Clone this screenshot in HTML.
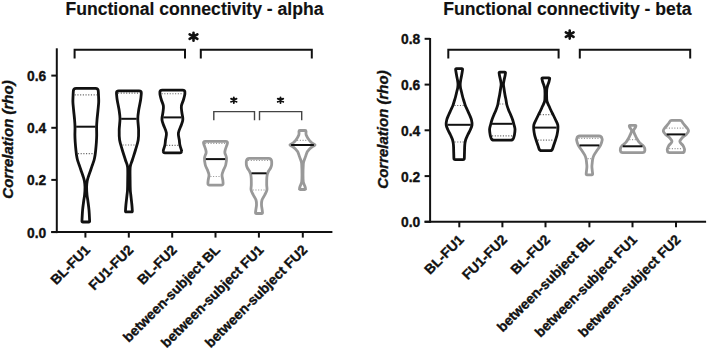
<!DOCTYPE html>
<html><head><meta charset="utf-8"><style>
html,body{margin:0;padding:0;background:#fff;}
body{width:708px;height:349px;overflow:hidden;}
svg{display:block;}
text{font-family:"Liberation Sans",sans-serif;stroke:#111;stroke-width:0.35px;}
</style></head><body>
<svg width="708" height="349" viewBox="0 0 708 349">
<rect width="708" height="349" fill="#fff"/>
<text x="194.5" y="15.3" text-anchor="middle" font-weight="bold" font-size="17.6" fill="#111" style="stroke-width:0.15px">Functional connectivity - alpha</text>
<text x="567.4" y="15.3" text-anchor="middle" font-weight="bold" font-size="17.6" fill="#111" style="stroke-width:0.15px">Functional connectivity - beta</text>
<line x1="56.8" y1="48.3" x2="56.8" y2="233.1" stroke="#111" stroke-width="2"/>
<line x1="51.3" y1="232.1" x2="332.4" y2="232.1" stroke="#111" stroke-width="2"/>
<line x1="51.3" y1="232.1" x2="56.8" y2="232.1" stroke="#111" stroke-width="2"/>
<text x="46.3" y="237.5" text-anchor="end" font-weight="bold" font-size="13.8" fill="#111">0.0</text>
<line x1="51.3" y1="179.9" x2="56.8" y2="179.9" stroke="#111" stroke-width="2"/>
<text x="46.3" y="185.3" text-anchor="end" font-weight="bold" font-size="13.8" fill="#111">0.2</text>
<line x1="51.3" y1="127.8" x2="56.8" y2="127.8" stroke="#111" stroke-width="2"/>
<text x="46.3" y="133.2" text-anchor="end" font-weight="bold" font-size="13.8" fill="#111">0.4</text>
<line x1="51.3" y1="75.6" x2="56.8" y2="75.6" stroke="#111" stroke-width="2"/>
<text x="46.3" y="81.0" text-anchor="end" font-weight="bold" font-size="13.8" fill="#111">0.6</text>
<line x1="85.4" y1="232.1" x2="85.4" y2="237.6" stroke="#111" stroke-width="2"/>
<line x1="128.8" y1="232.1" x2="128.8" y2="237.6" stroke="#111" stroke-width="2"/>
<line x1="172.2" y1="232.1" x2="172.2" y2="237.6" stroke="#111" stroke-width="2"/>
<line x1="215.5" y1="232.1" x2="215.5" y2="237.6" stroke="#111" stroke-width="2"/>
<line x1="258.9" y1="232.1" x2="258.9" y2="237.6" stroke="#111" stroke-width="2"/>
<line x1="302.8" y1="232.1" x2="302.8" y2="237.6" stroke="#111" stroke-width="2"/>
<text x="90.90" y="250.80" text-anchor="end" font-weight="bold" font-size="13.8" fill="#111" transform="rotate(-45 90.90 250.80)">BL-FU1</text>
<text x="134.30" y="250.80" text-anchor="end" font-weight="bold" font-size="13.8" fill="#111" transform="rotate(-45 134.30 250.80)">FU1-FU2</text>
<text x="177.70" y="250.80" text-anchor="end" font-weight="bold" font-size="13.8" fill="#111" transform="rotate(-45 177.70 250.80)">BL-FU2</text>
<text x="221.00" y="250.80" text-anchor="end" font-weight="bold" font-size="13.8" fill="#111" transform="rotate(-45 221.00 250.80)">between-subject BL</text>
<text x="264.40" y="250.80" text-anchor="end" font-weight="bold" font-size="13.8" fill="#111" transform="rotate(-45 264.40 250.80)">between-subject FU1</text>
<text x="308.30" y="250.80" text-anchor="end" font-weight="bold" font-size="13.8" fill="#111" transform="rotate(-45 308.30 250.80)">between-subject FU2</text>
<text x="13.3" y="139.5" text-anchor="middle" font-weight="bold" font-style="italic" font-size="15" fill="#111" transform="rotate(-90 13.3 139.5)">Correlation (rho)</text>
<line x1="430.1" y1="38.0" x2="430.1" y2="222.8" stroke="#111" stroke-width="2"/>
<line x1="424.6" y1="221.8" x2="706.1" y2="221.8" stroke="#111" stroke-width="2"/>
<line x1="424.6" y1="221.8" x2="430.1" y2="221.8" stroke="#111" stroke-width="2"/>
<text x="420.3" y="227.20000000000002" text-anchor="end" font-weight="bold" font-size="13.8" fill="#111">0.0</text>
<line x1="424.6" y1="176.1" x2="430.1" y2="176.1" stroke="#111" stroke-width="2"/>
<text x="420.3" y="181.5" text-anchor="end" font-weight="bold" font-size="13.8" fill="#111">0.2</text>
<line x1="424.6" y1="130.3" x2="430.1" y2="130.3" stroke="#111" stroke-width="2"/>
<text x="420.3" y="135.70000000000002" text-anchor="end" font-weight="bold" font-size="13.8" fill="#111">0.4</text>
<line x1="424.6" y1="84.6" x2="430.1" y2="84.6" stroke="#111" stroke-width="2"/>
<text x="420.3" y="90.0" text-anchor="end" font-weight="bold" font-size="13.8" fill="#111">0.6</text>
<line x1="424.6" y1="38.8" x2="430.1" y2="38.8" stroke="#111" stroke-width="2"/>
<text x="420.3" y="44.199999999999996" text-anchor="end" font-weight="bold" font-size="13.8" fill="#111">0.8</text>
<line x1="459.3" y1="221.8" x2="459.3" y2="227.3" stroke="#111" stroke-width="2"/>
<line x1="502.4" y1="221.8" x2="502.4" y2="227.3" stroke="#111" stroke-width="2"/>
<line x1="545.5" y1="221.8" x2="545.5" y2="227.3" stroke="#111" stroke-width="2"/>
<line x1="589.4" y1="221.8" x2="589.4" y2="227.3" stroke="#111" stroke-width="2"/>
<line x1="632.5" y1="221.8" x2="632.5" y2="227.3" stroke="#111" stroke-width="2"/>
<line x1="676" y1="221.8" x2="676" y2="227.3" stroke="#111" stroke-width="2"/>
<text x="464.80" y="240.50" text-anchor="end" font-weight="bold" font-size="13.8" fill="#111" transform="rotate(-45 464.80 240.50)">BL-FU1</text>
<text x="507.90" y="240.50" text-anchor="end" font-weight="bold" font-size="13.8" fill="#111" transform="rotate(-45 507.90 240.50)">FU1-FU2</text>
<text x="551.00" y="240.50" text-anchor="end" font-weight="bold" font-size="13.8" fill="#111" transform="rotate(-45 551.00 240.50)">BL-FU2</text>
<text x="594.90" y="240.50" text-anchor="end" font-weight="bold" font-size="13.8" fill="#111" transform="rotate(-45 594.90 240.50)">between-subject BL</text>
<text x="638.00" y="240.50" text-anchor="end" font-weight="bold" font-size="13.8" fill="#111" transform="rotate(-45 638.00 240.50)">between-subject FU1</text>
<text x="681.50" y="240.50" text-anchor="end" font-weight="bold" font-size="13.8" fill="#111" transform="rotate(-45 681.50 240.50)">between-subject FU2</text>
<text x="387.7" y="129.5" text-anchor="middle" font-weight="bold" font-style="italic" font-size="15" fill="#111" transform="rotate(-90 387.7 129.5)">Correlation (rho)</text>
<path d="M74.6,58.6 L74.6,49.8 L185,49.8 L185,58.6" fill="none" stroke="#111" stroke-width="2" stroke-linejoin="miter" stroke-linecap="butt"/>
<path d="M200.8,58.6 L200.8,49.8 L311.8,49.8 L311.8,58.6" fill="none" stroke="#111" stroke-width="2" stroke-linejoin="miter" stroke-linecap="butt"/>
<path d="M193.50,32.70 L193.50,40.70 M189.62,34.46 L197.38,38.94 M189.62,38.94 L197.38,34.46" stroke="#111" stroke-width="2.6" stroke-linecap="round" fill="none"/>
<path d="M448.3,58.6 L448.3,49.8 L558.6,49.8 L558.6,58.6" fill="none" stroke="#111" stroke-width="2" stroke-linejoin="miter" stroke-linecap="butt"/>
<path d="M579.8,58.6 L579.8,49.8 L690.2,49.8 L690.2,58.6" fill="none" stroke="#111" stroke-width="2" stroke-linejoin="miter" stroke-linecap="butt"/>
<path d="M569.70,30.60 L569.70,38.60 M565.82,32.36 L573.58,36.84 M565.82,36.84 L573.58,32.36" stroke="#111" stroke-width="2.6" stroke-linecap="round" fill="none"/>
<path d="M213.8,120.2 L213.8,111.6 L254.5,111.6 L254.5,120.2" fill="none" stroke="#444" stroke-width="1.4" stroke-linejoin="miter" stroke-linecap="butt"/>
<path d="M259.5,120.2 L259.5,111.6 L301.7,111.6 L301.7,120.2" fill="none" stroke="#444" stroke-width="1.4" stroke-linejoin="miter" stroke-linecap="butt"/>
<path d="M233.80,97.40 L233.80,103.00 M231.08,98.63 L236.52,101.77 M231.08,101.77 L236.52,98.63" stroke="#111" stroke-width="1.9" stroke-linecap="round" fill="none"/>
<path d="M280.50,97.40 L280.50,103.00 M277.78,98.63 L283.22,101.77 M277.78,101.77 L283.22,98.63" stroke="#111" stroke-width="1.9" stroke-linecap="round" fill="none"/>
<line x1="74.71" y1="94.90" x2="96.89" y2="94.90" stroke="#666" stroke-width="1.2" stroke-dasharray="1.1 1.6"/>
<line x1="77.94" y1="153.70" x2="93.66" y2="153.70" stroke="#666" stroke-width="1.2" stroke-dasharray="1.1 1.6"/>
<path d="M76.10,88.30 L95.50,88.30 Q98.10,88.30 98.26,90.90 C98.30,91.58 98.43,93.15 98.50,95.00 C98.57,96.85 98.78,99.50 98.70,102.00 C98.62,104.50 98.28,107.00 98.00,110.00 C97.72,113.00 97.23,117.17 97.00,120.00 C96.77,122.83 96.65,124.50 96.60,127.00 C96.55,129.50 96.73,132.50 96.70,135.00 C96.67,137.50 96.57,139.50 96.40,142.00 C96.23,144.50 95.92,147.83 95.70,150.00 C95.48,152.17 95.37,153.33 95.10,155.00 C94.83,156.67 94.55,158.33 94.10,160.00 C93.65,161.67 92.97,163.33 92.40,165.00 C91.83,166.67 91.33,168.17 90.70,170.00 C90.07,171.83 89.18,174.17 88.60,176.00 C88.02,177.83 87.53,179.17 87.20,181.00 C86.87,182.83 86.63,184.67 86.60,187.00 C86.57,189.33 86.78,192.67 87.00,195.00 C87.22,197.33 87.57,198.50 87.90,201.00 C88.23,203.50 88.71,206.66 89.00,210.00 C89.29,213.34 89.54,219.19 89.64,221.03 Q89.70,222.00 88.73,222.00 L82.87,222.00 Q81.90,222.00 81.96,221.03 C82.06,219.19 82.31,213.34 82.60,210.00 C82.89,206.66 83.37,203.50 83.70,201.00 C84.03,198.50 84.38,197.33 84.60,195.00 C84.82,192.67 85.03,189.33 85.00,187.00 C84.97,184.67 84.73,182.83 84.40,181.00 C84.07,179.17 83.58,177.83 83.00,176.00 C82.42,174.17 81.53,171.83 80.90,170.00 C80.27,168.17 79.77,166.67 79.20,165.00 C78.63,163.33 77.95,161.67 77.50,160.00 C77.05,158.33 76.77,156.67 76.50,155.00 C76.23,153.33 76.12,152.17 75.90,150.00 C75.68,147.83 75.37,144.50 75.20,142.00 C75.03,139.50 74.93,137.50 74.90,135.00 C74.87,132.50 75.05,129.50 75.00,127.00 C74.95,124.50 74.83,122.83 74.60,120.00 C74.37,117.17 73.88,113.00 73.60,110.00 C73.32,107.00 72.98,104.50 72.90,102.00 C72.82,99.50 73.03,96.85 73.10,95.00 C73.17,93.15 73.30,91.58 73.34,90.90 Q73.50,88.30 76.10,88.30 Z" fill="none" stroke="#111" stroke-width="2.8" stroke-linejoin="round"/>
<line x1="76.18" y1="126.70" x2="95.42" y2="126.70" stroke="#111" stroke-width="2"/>
<line x1="118.05" y1="93.20" x2="139.75" y2="93.20" stroke="#666" stroke-width="1.2" stroke-dasharray="1.1 1.6"/>
<line x1="122.55" y1="145.00" x2="135.25" y2="145.00" stroke="#666" stroke-width="1.2" stroke-dasharray="1.1 1.6"/>
<path d="M118.80,90.90 L139.00,90.90 Q141.60,90.90 141.31,93.50 C141.20,94.58 141.04,97.25 140.60,100.00 C140.16,102.75 139.17,106.87 138.70,110.00 C138.23,113.13 137.82,115.47 137.80,118.80 C137.78,122.13 138.53,126.47 138.60,130.00 C138.67,133.53 138.72,136.67 138.20,140.00 C137.68,143.33 136.47,146.67 135.50,150.00 C134.53,153.33 133.23,157.17 132.35,160.00 C131.47,162.83 130.58,163.67 130.20,167.00 C129.83,170.33 130.08,176.17 130.10,180.00 C130.12,183.83 130.18,187.50 130.30,190.00 C130.42,192.50 130.53,192.50 130.80,195.00 C131.07,197.50 131.64,202.33 131.90,205.00 C132.16,207.67 132.26,210.02 132.34,211.03 Q132.40,211.90 131.53,211.90 L126.28,211.90 Q125.40,211.90 125.46,211.03 C125.54,210.02 125.64,207.67 125.90,205.00 C126.16,202.33 126.73,197.50 127.00,195.00 C127.27,192.50 127.38,192.50 127.50,190.00 C127.62,187.50 127.68,183.83 127.70,180.00 C127.72,176.17 127.98,170.33 127.60,167.00 C127.23,163.67 126.33,162.83 125.45,160.00 C124.57,157.17 123.28,153.33 122.30,150.00 C121.33,146.67 120.12,143.33 119.60,140.00 C119.08,136.67 119.13,133.53 119.20,130.00 C119.27,126.47 120.02,122.13 120.00,118.80 C119.98,115.47 119.57,113.13 119.10,110.00 C118.63,106.87 117.64,102.75 117.20,100.00 C116.76,97.25 116.60,94.58 116.49,93.50 Q116.20,90.90 118.80,90.90 Z" fill="none" stroke="#111" stroke-width="2.8" stroke-linejoin="round"/>
<line x1="121.20" y1="118.80" x2="136.60" y2="118.80" stroke="#111" stroke-width="2"/>
<line x1="161.59" y1="93.75" x2="183.21" y2="93.75" stroke="#666" stroke-width="1.2" stroke-dasharray="1.1 1.6"/>
<line x1="166.41" y1="145.30" x2="178.39" y2="145.30" stroke="#666" stroke-width="1.2" stroke-dasharray="1.1 1.6"/>
<path d="M162.25,90.10 L182.55,90.10 Q185.15,90.10 184.91,92.70 C184.88,93.08 184.95,93.78 184.70,95.00 C184.45,96.22 183.95,98.17 183.40,100.00 C182.85,101.83 181.67,104.00 181.40,106.00 C181.13,108.00 181.57,110.00 181.80,112.00 C182.03,114.00 182.67,116.50 182.80,118.00 C182.93,119.50 182.85,119.83 182.60,121.00 C182.35,122.17 182.00,123.00 181.30,125.00 C180.60,127.00 178.73,130.50 178.40,133.00 C178.07,135.50 179.05,138.00 179.30,140.00 C179.55,142.00 179.55,143.33 179.90,145.00 C180.25,146.67 181.13,149.03 181.40,150.00 C181.67,150.97 181.50,150.67 181.51,150.80 Q181.80,152.80 179.80,152.80 L165.00,152.80 Q163.00,152.80 163.29,150.80 C163.30,150.67 163.13,150.97 163.40,150.00 C163.67,149.03 164.55,146.67 164.90,145.00 C165.25,143.33 165.25,142.00 165.50,140.00 C165.75,138.00 166.73,135.50 166.40,133.00 C166.07,130.50 164.20,127.00 163.50,125.00 C162.80,123.00 162.45,122.17 162.20,121.00 C161.95,119.83 161.87,119.50 162.00,118.00 C162.13,116.50 162.77,114.00 163.00,112.00 C163.23,110.00 163.67,108.00 163.40,106.00 C163.13,104.00 161.95,101.83 161.40,100.00 C160.85,98.17 160.35,96.22 160.10,95.00 C159.85,93.78 159.92,93.08 159.89,92.70 Q159.65,90.10 162.25,90.10 Z" fill="none" stroke="#111" stroke-width="2.8" stroke-linejoin="round"/>
<line x1="163.30" y1="117.40" x2="181.50" y2="117.40" stroke="#111" stroke-width="2"/>
<line x1="205.14" y1="143.40" x2="225.86" y2="143.40" stroke="#999" stroke-width="1.2" stroke-dasharray="1.1 1.6"/>
<line x1="210.36" y1="176.50" x2="220.64" y2="176.50" stroke="#999" stroke-width="1.2" stroke-dasharray="1.1 1.6"/>
<path d="M205.40,141.30 L225.60,141.30 Q228.20,141.30 227.29,143.90 C227.22,144.08 227.25,143.98 226.90,145.00 C226.55,146.02 225.53,148.67 225.20,150.00 C224.87,151.33 224.68,151.67 224.90,153.00 C225.12,154.33 226.37,156.00 226.50,158.00 C226.63,160.00 226.20,163.00 225.70,165.00 C225.20,167.00 224.12,168.33 223.50,170.00 C222.88,171.67 222.12,173.33 222.00,175.00 C221.88,176.67 222.62,178.65 222.80,180.00 C222.98,181.35 223.05,182.58 223.10,183.10 Q223.30,185.10 221.30,185.10 L209.70,185.10 Q207.70,185.10 207.90,183.10 C207.95,182.58 208.02,181.35 208.20,180.00 C208.38,178.65 209.12,176.67 209.00,175.00 C208.88,173.33 208.12,171.67 207.50,170.00 C206.88,168.33 205.80,167.00 205.30,165.00 C204.80,163.00 204.37,160.00 204.50,158.00 C204.63,156.00 205.88,154.33 206.10,153.00 C206.32,151.67 206.13,151.33 205.80,150.00 C205.47,148.67 204.45,146.02 204.10,145.00 C203.75,143.98 203.78,144.08 203.71,143.90 Q202.80,141.30 205.40,141.30 Z" fill="none" stroke="#999" stroke-width="2.8" stroke-linejoin="round"/>
<line x1="205.83" y1="159.10" x2="225.17" y2="159.10" stroke="#111" stroke-width="2"/>
<line x1="248.06" y1="160.50" x2="269.94" y2="160.50" stroke="#999" stroke-width="1.2" stroke-dasharray="1.1 1.6"/>
<line x1="252.70" y1="190.00" x2="265.30" y2="190.00" stroke="#999" stroke-width="1.2" stroke-dasharray="1.1 1.6"/>
<path d="M249.30,158.30 L268.70,158.30 Q271.30,158.30 271.58,160.90 C271.60,161.08 271.70,161.32 271.70,162.00 C271.70,162.68 271.78,164.00 271.60,165.00 C271.42,166.00 271.10,167.00 270.60,168.00 C270.10,169.00 269.13,170.00 268.60,171.00 C268.07,172.00 267.70,172.83 267.40,174.00 C267.10,175.17 266.92,176.17 266.80,178.00 C266.68,179.83 266.68,183.00 266.70,185.00 C266.72,187.00 267.23,188.33 266.90,190.00 C266.57,191.67 265.52,193.33 264.70,195.00 C263.88,196.67 262.53,198.33 262.00,200.00 C261.47,201.67 261.47,203.33 261.50,205.00 C261.53,206.67 262.03,208.73 262.20,210.00 C262.37,211.27 262.45,212.17 262.50,212.60 Q262.60,213.50 261.70,213.50 L256.30,213.50 Q255.40,213.50 255.50,212.60 C255.55,212.17 255.63,211.27 255.80,210.00 C255.97,208.73 256.47,206.67 256.50,205.00 C256.53,203.33 256.53,201.67 256.00,200.00 C255.47,198.33 254.12,196.67 253.30,195.00 C252.48,193.33 251.43,191.67 251.10,190.00 C250.77,188.33 251.28,187.00 251.30,185.00 C251.32,183.00 251.32,179.83 251.20,178.00 C251.08,176.17 250.90,175.17 250.60,174.00 C250.30,172.83 249.93,172.00 249.40,171.00 C248.87,170.00 247.90,169.00 247.40,168.00 C246.90,167.00 246.58,166.00 246.40,165.00 C246.22,164.00 246.30,162.68 246.30,162.00 C246.30,161.32 246.40,161.08 246.42,160.90 Q246.70,158.30 249.30,158.30 Z" fill="none" stroke="#999" stroke-width="2.8" stroke-linejoin="round"/>
<line x1="251.52" y1="173.30" x2="266.48" y2="173.30" stroke="#111" stroke-width="2"/>
<line x1="297.11" y1="140.40" x2="307.89" y2="140.40" stroke="#999" stroke-width="1.2" stroke-dasharray="1.1 1.6"/>
<path d="M299.88,130.50 L305.12,130.50 Q306.00,130.50 306.04,131.38 C306.07,131.98 305.69,133.56 306.20,135.00 C306.71,136.44 308.13,138.67 309.10,140.00 C310.07,141.33 311.00,142.17 312.00,143.00 C313.00,143.83 315.02,144.42 315.10,145.00 C315.18,145.58 313.38,145.88 312.50,146.50 C311.62,147.12 310.50,148.03 309.80,148.70 C309.10,149.37 308.77,149.88 308.30,150.50 C307.83,151.12 307.48,151.33 307.00,152.40 C306.52,153.47 305.93,155.40 305.40,156.90 C304.87,158.40 304.15,160.13 303.80,161.40 C303.45,162.67 303.43,162.23 303.30,164.50 C303.17,166.77 303.00,172.08 303.00,175.00 C303.00,177.92 303.00,180.17 303.30,182.00 C303.60,183.83 304.42,184.89 304.80,186.00 C305.18,187.11 305.44,188.23 305.56,188.68 Q305.80,189.50 304.98,189.50 L300.02,189.50 Q299.20,189.50 299.44,188.68 C299.56,188.23 299.82,187.11 300.20,186.00 C300.58,184.89 301.40,183.83 301.70,182.00 C302.00,180.17 302.00,177.92 302.00,175.00 C302.00,172.08 301.83,166.77 301.70,164.50 C301.57,162.23 301.55,162.67 301.20,161.40 C300.85,160.13 300.13,158.40 299.60,156.90 C299.07,155.40 298.48,153.47 298.00,152.40 C297.52,151.33 297.17,151.12 296.70,150.50 C296.23,149.88 295.90,149.37 295.20,148.70 C294.50,148.03 293.38,147.12 292.50,146.50 C291.62,145.88 289.82,145.58 289.90,145.00 C289.98,144.42 292.00,143.83 293.00,143.00 C294.00,142.17 294.93,141.33 295.90,140.00 C296.87,138.67 298.29,136.44 298.80,135.00 C299.31,133.56 298.93,131.98 298.96,131.38 Q299.00,130.50 299.88,130.50 Z" fill="none" stroke="#999" stroke-width="2.8" stroke-linejoin="round"/>
<line x1="291.10" y1="145.00" x2="313.90" y2="145.00" stroke="#111" stroke-width="2"/>
<line x1="454.50" y1="105.50" x2="463.70" y2="105.50" stroke="#666" stroke-width="1.2" stroke-dasharray="1.1 1.6"/>
<line x1="454.54" y1="142.00" x2="463.66" y2="142.00" stroke="#666" stroke-width="1.2" stroke-dasharray="1.1 1.6"/>
<path d="M456.40,68.60 L461.80,68.60 Q462.70,68.60 462.57,69.50 C462.51,69.92 462.38,70.92 462.20,72.00 C462.02,73.08 461.75,74.67 461.50,76.00 C461.25,77.33 460.92,78.67 460.70,80.00 C460.48,81.33 460.23,82.67 460.20,84.00 C460.17,85.33 460.28,86.67 460.50,88.00 C460.72,89.33 461.13,90.50 461.50,92.00 C461.87,93.50 462.30,95.50 462.70,97.00 C463.10,98.50 463.47,99.58 463.90,101.00 C464.33,102.42 464.73,104.00 465.30,105.50 C465.88,107.00 466.63,108.42 467.35,110.00 C468.07,111.58 468.91,113.33 469.60,115.00 C470.29,116.67 471.10,118.33 471.50,120.00 C471.90,121.67 472.22,123.33 472.00,125.00 C471.78,126.67 470.92,128.33 470.20,130.00 C469.48,131.67 468.47,133.33 467.70,135.00 C466.93,136.67 466.09,138.33 465.60,140.00 C465.11,141.67 464.93,143.00 464.75,145.00 C464.57,147.00 464.57,149.78 464.50,152.00 C464.43,154.22 464.36,157.25 464.33,158.30 Q464.30,159.60 463.00,159.60 L455.20,159.60 Q453.90,159.60 453.87,158.30 C453.84,157.25 453.77,154.22 453.70,152.00 C453.63,149.78 453.63,147.00 453.45,145.00 C453.27,143.00 453.09,141.67 452.60,140.00 C452.11,138.33 451.27,136.67 450.50,135.00 C449.73,133.33 448.72,131.67 448.00,130.00 C447.28,128.33 446.42,126.67 446.20,125.00 C445.98,123.33 446.30,121.67 446.70,120.00 C447.10,118.33 447.91,116.67 448.60,115.00 C449.29,113.33 450.13,111.58 450.85,110.00 C451.57,108.42 452.33,107.00 452.90,105.50 C453.48,104.00 453.87,102.42 454.30,101.00 C454.73,99.58 455.10,98.50 455.50,97.00 C455.90,95.50 456.33,93.50 456.70,92.00 C457.07,90.50 457.48,89.33 457.70,88.00 C457.92,86.67 458.03,85.33 458.00,84.00 C457.97,82.67 457.72,81.33 457.50,80.00 C457.28,78.67 456.95,77.33 456.70,76.00 C456.45,74.67 456.18,73.08 456.00,72.00 C455.82,70.92 455.69,69.92 455.63,69.50 Q455.50,68.60 456.40,68.60 Z" fill="none" stroke="#111" stroke-width="2.8" stroke-linejoin="round"/>
<line x1="447.42" y1="124.80" x2="470.78" y2="124.80" stroke="#111" stroke-width="2"/>
<line x1="499.48" y1="104.00" x2="505.12" y2="104.00" stroke="#666" stroke-width="1.2" stroke-dasharray="1.1 1.6"/>
<line x1="492.05" y1="135.80" x2="512.55" y2="135.80" stroke="#666" stroke-width="1.2" stroke-dasharray="1.1 1.6"/>
<path d="M499.82,72.10 L504.78,72.10 Q505.60,72.10 505.47,72.92 C505.39,73.44 505.23,74.82 505.00,76.00 C504.77,77.18 504.36,78.67 504.10,80.00 C503.84,81.33 503.48,82.67 503.45,84.00 C503.42,85.33 503.64,86.17 503.90,88.00 C504.16,89.83 504.65,93.00 505.00,95.00 C505.35,97.00 505.68,98.33 506.00,100.00 C506.32,101.67 506.47,103.33 506.90,105.00 C507.33,106.67 507.96,108.33 508.60,110.00 C509.24,111.67 510.07,113.33 510.75,115.00 C511.43,116.67 512.19,118.50 512.70,120.00 C513.21,121.50 513.42,122.50 513.80,124.00 C514.18,125.50 514.88,127.25 515.00,129.00 C515.12,130.75 514.72,133.08 514.50,134.50 C514.28,135.92 513.88,136.88 513.70,137.50 C513.52,138.12 513.48,138.08 513.44,138.20 Q512.70,140.20 510.70,140.20 L493.90,140.20 Q491.90,140.20 491.16,138.20 C491.12,138.08 491.08,138.12 490.90,137.50 C490.72,136.88 490.32,135.92 490.10,134.50 C489.88,133.08 489.48,130.75 489.60,129.00 C489.72,127.25 490.42,125.50 490.80,124.00 C491.18,122.50 491.39,121.50 491.90,120.00 C492.41,118.50 493.17,116.67 493.85,115.00 C494.53,113.33 495.36,111.67 496.00,110.00 C496.64,108.33 497.27,106.67 497.70,105.00 C498.13,103.33 498.28,101.67 498.60,100.00 C498.92,98.33 499.25,97.00 499.60,95.00 C499.95,93.00 500.44,89.83 500.70,88.00 C500.96,86.17 501.18,85.33 501.15,84.00 C501.12,82.67 500.76,81.33 500.50,80.00 C500.24,78.67 499.83,77.18 499.60,76.00 C499.37,74.82 499.21,73.44 499.13,72.92 Q499.00,72.10 499.82,72.10 Z" fill="none" stroke="#111" stroke-width="2.8" stroke-linejoin="round"/>
<line x1="492.06" y1="123.80" x2="512.54" y2="123.80" stroke="#111" stroke-width="2"/>
<line x1="540.10" y1="114.70" x2="551.50" y2="114.70" stroke="#666" stroke-width="1.2" stroke-dasharray="1.1 1.6"/>
<line x1="537.73" y1="140.10" x2="553.87" y2="140.10" stroke="#666" stroke-width="1.2" stroke-dasharray="1.1 1.6"/>
<path d="M542.72,77.80 L548.88,77.80 Q549.90,77.80 549.66,78.83 C549.53,79.35 549.26,80.80 548.90,82.00 C548.54,83.20 547.87,84.67 547.50,86.00 C547.13,87.33 546.83,87.83 546.70,90.00 C546.57,92.17 546.58,96.92 546.70,99.00 C546.82,101.08 547.02,101.33 547.40,102.50 C547.78,103.67 548.43,104.75 549.00,106.00 C549.57,107.25 550.09,108.50 550.80,110.00 C551.51,111.50 552.44,113.33 553.25,115.00 C554.06,116.67 554.89,118.33 555.65,120.00 C556.41,121.67 557.44,123.33 557.80,125.00 C558.16,126.67 557.93,128.33 557.80,130.00 C557.67,131.67 557.38,133.33 557.00,135.00 C556.62,136.67 556.03,138.33 555.50,140.00 C554.97,141.67 554.28,143.54 553.80,145.00 C553.32,146.46 552.80,148.12 552.60,148.74 Q552.00,150.60 550.14,150.60 L541.46,150.60 Q539.60,150.60 539.00,148.74 C538.80,148.12 538.28,146.46 537.80,145.00 C537.32,143.54 536.63,141.67 536.10,140.00 C535.57,138.33 534.98,136.67 534.60,135.00 C534.22,133.33 533.93,131.67 533.80,130.00 C533.67,128.33 533.44,126.67 533.80,125.00 C534.16,123.33 535.19,121.67 535.95,120.00 C536.71,118.33 537.54,116.67 538.35,115.00 C539.16,113.33 540.09,111.50 540.80,110.00 C541.51,108.50 542.03,107.25 542.60,106.00 C543.17,104.75 543.82,103.67 544.20,102.50 C544.58,101.33 544.78,101.08 544.90,99.00 C545.02,96.92 545.03,92.17 544.90,90.00 C544.77,87.83 544.47,87.33 544.10,86.00 C543.73,84.67 543.06,83.20 542.70,82.00 C542.34,80.80 542.07,79.35 541.94,78.83 Q541.70,77.80 542.72,77.80 Z" fill="none" stroke="#111" stroke-width="2.8" stroke-linejoin="round"/>
<line x1="535.00" y1="127.60" x2="556.60" y2="127.60" stroke="#111" stroke-width="2"/>
<line x1="578.50" y1="138.30" x2="600.30" y2="138.30" stroke="#999" stroke-width="1.2" stroke-dasharray="1.1 1.6"/>
<line x1="587.57" y1="158.60" x2="591.23" y2="158.60" stroke="#999" stroke-width="1.2" stroke-dasharray="1.1 1.6"/>
<path d="M579.90,136.00 L598.90,136.00 Q601.50,136.00 601.95,138.60 C602.00,138.83 602.41,138.93 602.20,140.00 C601.99,141.07 601.52,143.33 600.70,145.00 C599.88,146.67 598.43,148.28 597.30,150.00 C596.17,151.72 594.67,153.80 593.90,155.30 C593.13,156.80 592.98,157.72 592.70,159.00 C592.42,160.28 592.33,161.75 592.20,163.00 C592.07,164.25 591.90,165.33 591.90,166.50 C591.90,167.67 592.10,169.00 592.20,170.00 C592.30,171.00 592.43,171.84 592.50,172.50 C592.57,173.16 592.61,173.73 592.63,173.98 Q592.70,174.80 591.87,174.80 L586.93,174.80 Q586.10,174.80 586.17,173.98 C586.19,173.73 586.23,173.16 586.30,172.50 C586.37,171.84 586.50,171.00 586.60,170.00 C586.70,169.00 586.90,167.67 586.90,166.50 C586.90,165.33 586.73,164.25 586.60,163.00 C586.47,161.75 586.38,160.28 586.10,159.00 C585.82,157.72 585.67,156.80 584.90,155.30 C584.13,153.80 582.63,151.72 581.50,150.00 C580.37,148.28 578.92,146.67 578.10,145.00 C577.28,143.33 576.81,141.07 576.60,140.00 C576.39,138.93 576.80,138.83 576.85,138.60 Q577.30,136.00 579.90,136.00 Z" fill="none" stroke="#999" stroke-width="2.8" stroke-linejoin="round"/>
<line x1="579.57" y1="145.40" x2="599.23" y2="145.40" stroke="#111" stroke-width="2"/>
<line x1="629.31" y1="139.60" x2="635.89" y2="139.60" stroke="#999" stroke-width="1.2" stroke-dasharray="1.1 1.6"/>
<path d="M629.90,125.40 L635.30,125.40 Q636.20,125.40 635.81,126.30 C635.73,126.50 635.67,126.83 635.30,127.50 C634.93,128.17 633.78,129.38 633.60,130.30 C633.42,131.22 633.85,132.00 634.20,133.00 C634.55,134.00 635.22,135.30 635.70,136.30 C636.18,137.30 636.57,138.08 637.10,139.00 C637.63,139.92 638.33,141.05 638.90,141.80 C639.47,142.55 639.93,142.97 640.50,143.50 C641.07,144.03 641.75,144.50 642.30,145.00 C642.85,145.50 643.42,146.00 643.80,146.50 C644.18,147.00 644.42,147.42 644.60,148.00 C644.78,148.58 644.87,149.57 644.90,150.00 C644.93,150.43 644.82,150.50 644.81,150.60 Q644.50,152.60 642.50,152.60 L622.70,152.60 Q620.70,152.60 620.39,150.60 C620.38,150.50 620.27,150.43 620.30,150.00 C620.33,149.57 620.42,148.58 620.60,148.00 C620.78,147.42 621.02,147.00 621.40,146.50 C621.78,146.00 622.35,145.50 622.90,145.00 C623.45,144.50 624.13,144.03 624.70,143.50 C625.27,142.97 625.73,142.55 626.30,141.80 C626.87,141.05 627.57,139.92 628.10,139.00 C628.63,138.08 629.02,137.30 629.50,136.30 C629.98,135.30 630.65,134.00 631.00,133.00 C631.35,132.00 631.78,131.22 631.60,130.30 C631.42,129.38 630.27,128.17 629.90,127.50 C629.53,126.83 629.47,126.50 629.39,126.30 Q629.00,125.40 629.90,125.40 Z" fill="none" stroke="#999" stroke-width="2.8" stroke-linejoin="round"/>
<line x1="622.80" y1="146.30" x2="642.40" y2="146.30" stroke="#111" stroke-width="2"/>
<line x1="666.19" y1="128.20" x2="685.61" y2="128.20" stroke="#999" stroke-width="1.2" stroke-dasharray="1.1 1.6"/>
<line x1="669.14" y1="148.60" x2="682.66" y2="148.60" stroke="#999" stroke-width="1.2" stroke-dasharray="1.1 1.6"/>
<path d="M671.70,120.40 L680.10,120.40 Q681.50,120.40 682.25,121.80 C682.36,122.00 682.46,122.38 682.90,123.00 C683.34,123.62 684.20,124.67 684.90,125.50 C685.60,126.33 686.50,127.15 687.10,128.00 C687.70,128.85 688.38,129.85 688.50,130.60 C688.62,131.35 688.17,131.87 687.80,132.50 C687.43,133.13 687.20,133.57 686.30,134.40 C685.40,135.23 683.47,136.30 682.40,137.50 C681.33,138.70 679.73,140.23 679.85,141.60 C679.97,142.97 682.33,144.43 683.10,145.70 C683.88,146.97 684.28,148.38 684.50,149.20 C684.72,150.02 684.43,150.37 684.42,150.60 Q684.30,152.60 682.30,152.60 L669.50,152.60 Q667.50,152.60 667.38,150.60 C667.37,150.37 667.08,150.02 667.30,149.20 C667.52,148.38 667.92,146.97 668.70,145.70 C669.47,144.43 671.83,142.97 671.95,141.60 C672.07,140.23 670.47,138.70 669.40,137.50 C668.33,136.30 666.40,135.23 665.50,134.40 C664.60,133.57 664.37,133.13 664.00,132.50 C663.63,131.87 663.18,131.35 663.30,130.60 C663.42,129.85 664.10,128.85 664.70,128.00 C665.30,127.15 666.20,126.33 666.90,125.50 C667.60,124.67 668.46,123.62 668.90,123.00 C669.34,122.38 669.44,122.00 669.55,121.80 Q670.30,120.40 671.70,120.40 Z" fill="none" stroke="#999" stroke-width="2.8" stroke-linejoin="round"/>
<line x1="666.70" y1="134.40" x2="685.10" y2="134.40" stroke="#111" stroke-width="2"/>
</svg>
</body></html>
